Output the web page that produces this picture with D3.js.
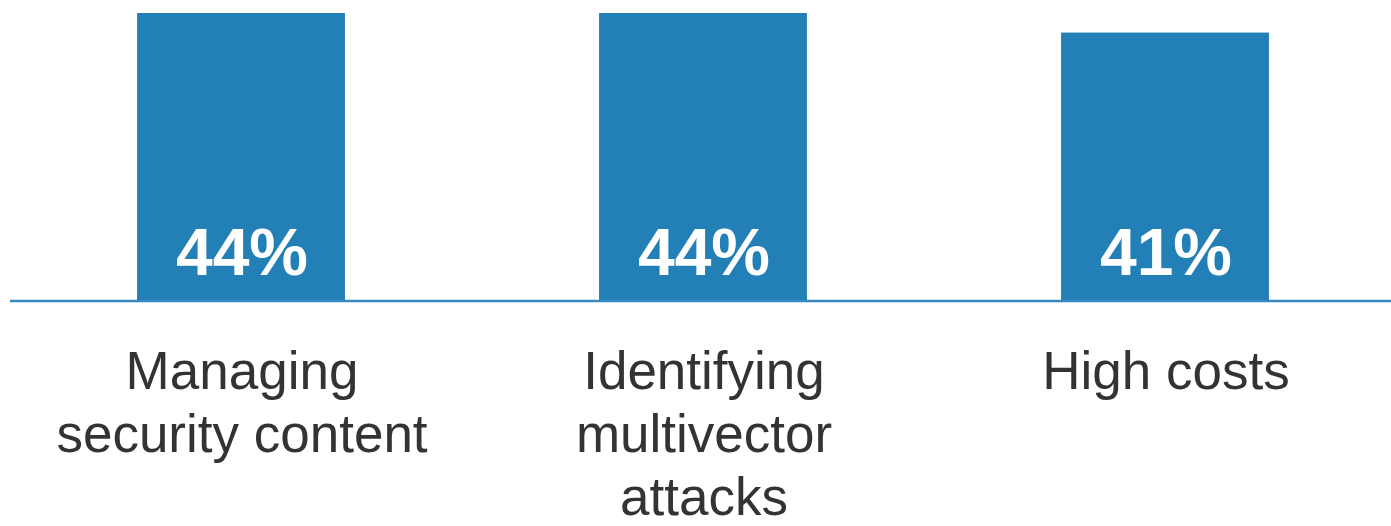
<!DOCTYPE html>
<html>
<head>
<meta charset="utf-8">
<script src="https://cdn.jsdelivr.net/npm/d3@7"></script>
<style>
  body { margin: 0; background: #fff; }
  svg { display: block; }
</style>
</head>
<body>
<svg id="chart" width="1391" height="526"></svg>
<script>
// Chart data
const categories = ["Managing security content", "Identifying multivector attacks", "High costs"];
const labelLines = [["Managing", "security content"], ["Identifying", "multivector", "attacks"], ["High costs"]];
const values = [44, 44, 41];

const svg = d3.select("#chart");
const width = 1391;
const baseY = 300;

// Scales
const xScale = d3
  .scaleBand()
  .domain(categories)
  .range([10, 1396])
  .paddingInner(0.55)
  .paddingOuter(0.275);

const yScale = d3.scaleLinear().domain([0, 44]).range([baseY, 13]);

// Bars
svg
  .selectAll("rect.bar")
  .data(values)
  .enter()
  .append("rect")
  .attr("class", "bar")
  .attr("x", (d, i) => xScale(categories[i]))
  .attr("y", (d) => yScale(d))
  .attr("width", xScale.bandwidth())
  .attr("height", (d) => yScale(0) - yScale(d))
  .attr("fill", "#2280b6");

// Baseline
svg
  .append("line")
  .attr("x1", 10)
  .attr("x2", width)
  .attr("y1", yScale(0) + 1)
  .attr("y2", yScale(0) + 1)
  .attr("stroke", "#3589bf")
  .attr("stroke-width", 2.5);

// Value labels inside bars
svg
  .selectAll("text.value")
  .data(values)
  .enter()
  .append("text")
  .attr("class", "value")
  .attr("x", (d, i) => xScale(categories[i]) + xScale.bandwidth() / 2 + 1)
  .attr("y", yScale(0) - 25)
  .attr("text-anchor", "middle")
  .attr("font-family", "Liberation Sans, Arial, sans-serif")
  .attr("font-weight", "bold")
  .attr("font-size", 66)
  .attr("fill", "#ffffff")
  .text((d) => d + "%");

// Category labels
const labels = svg
  .selectAll("text.cat")
  .data(categories)
  .enter()
  .append("text")
  .attr("class", "cat")
  .attr("x", (d) => xScale(d) + xScale.bandwidth() / 2 + 1)
  .attr("y", 389)
  .attr("text-anchor", "middle")
  .attr("font-family", "Liberation Sans, Arial, sans-serif")
  .attr("font-size", 53)
  .attr("fill", "#333333");

labels
  .selectAll("tspan")
  .data((d, i) => labelLines[i])
  .enter()
  .append("tspan")
  .attr("x", function () {
    return d3.select(this.parentNode).attr("x");
  })
  .attr("dy", (d, i) => (i === 0 ? 0 : 63))
  .text((d) => d);
</script>
</body>
</html>
